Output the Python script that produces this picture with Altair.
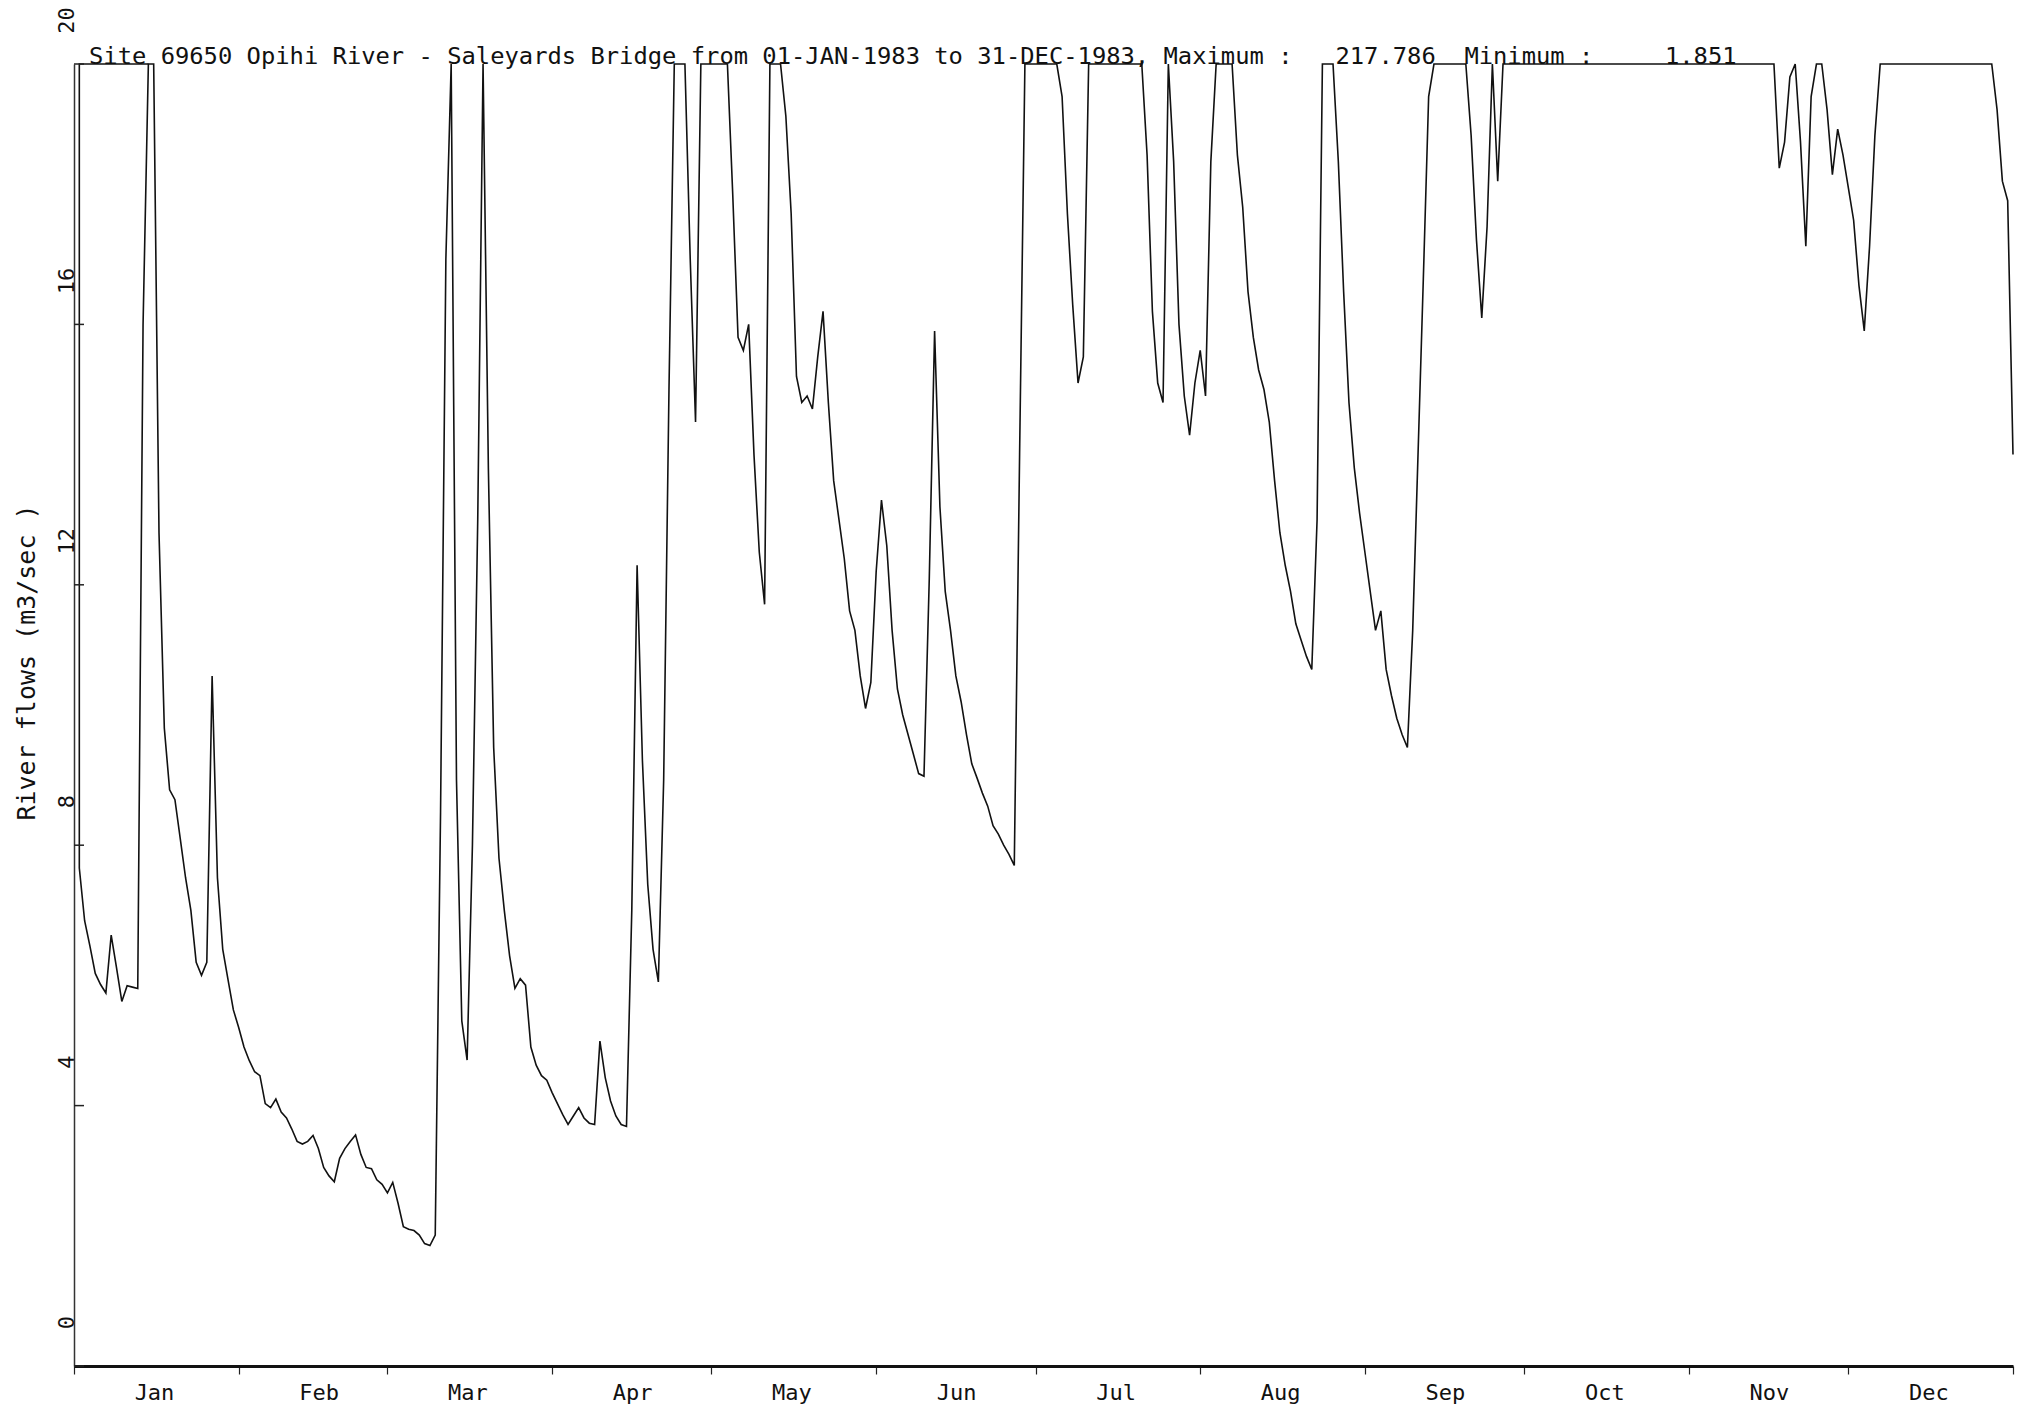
import altair as alt
import pandas as pd

# ---- text ----
TITLE = ("Site 69650 Opihi River - Saleyards Bridge from 01-JAN-1983 to 31-DEC-1983, "
         "Maximum :   217.786  Minimum :     1.851")
Y_TITLE = "River flows (m3/sec )"
MONTHS = ["Jan", "Feb", "Mar", "Apr", "May", "Jun",
          "Jul", "Aug", "Sep", "Oct", "Nov", "Dec"]
MONTH_STARTS = [0, 31, 59, 90, 120, 151, 181, 212, 243, 273, 304, 334, 365]
Y_TICKS = [0, 4, 8, 12, 16, 20]

# ---- daily flows (m3/sec); the plot is clipped at 20 ----
jan = [7.65, 6.84, 6.45, 6.03, 5.86, 5.73, 6.62, 6.12, 5.60, 5.84, 5.82, 5.80, 16.0, 20, 20,
       12.8, 9.8, 8.85, 8.7, 8.1, 7.5, 7.0, 6.2, 6.0, 6.2, 10.6, 7.5, 6.4, 5.93, 5.47, 5.2]
feb = [4.9, 4.69, 4.52, 4.46, 4.03, 3.97, 4.1, 3.9, 3.81, 3.64, 3.45, 3.41, 3.45, 3.54,
       3.34, 3.05, 2.92, 2.83, 3.19, 3.34, 3.45, 3.55, 3.25, 3.05, 3.03, 2.86, 2.79, 2.66]
mar = [2.82, 2.5, 2.14, 2.1, 2.08, 2.01, 1.88, 1.851, 2.01, 8.5, 17.0, 20, 9.0, 5.3, 4.7,
       8.0, 13.0, 20, 13.8, 9.5, 7.8, 7.0, 6.3, 5.8, 5.95, 5.85, 4.9, 4.62, 4.46, 4.39, 4.2]
apr = [4.03, 3.86, 3.71, 3.84, 3.97, 3.81, 3.73, 3.71, 4.99, 4.43, 4.07, 3.84, 3.71, 3.68,
       7.0, 12.3, 9.3, 7.4, 6.4, 5.9, 9.0, 15.0, 20, 20, 20, 17.0, 14.5, 20, 20, 20]
may = [20, 20, 20, 18.0, 15.8, 15.6, 16.0, 14.0, 12.5, 11.7, 20, 20, 20, 19.2, 17.7, 15.2,
       14.8, 14.9, 14.7, 15.5, 16.2, 14.8, 13.6, 13.0, 12.4, 11.6, 11.3, 10.6, 10.1, 10.5, 12.2]
jun = [13.3, 12.6, 11.3, 10.4, 10.0, 9.7, 9.4, 9.1, 9.06, 12.1, 15.9, 13.2, 11.9, 11.3, 10.6,
       10.2, 9.7, 9.25, 9.03, 8.8, 8.6, 8.3, 8.17, 8.0, 7.86, 7.69, 14.0, 20, 20, 20]
jul = [20, 20, 20, 20, 19.5, 17.7, 16.3, 15.1, 15.5, 20, 20, 20, 20, 20, 20, 20, 20, 20, 20,
       20, 18.6, 16.2, 15.1, 14.8, 20, 18.5, 16.0, 14.9, 14.3, 15.1, 15.6]
aug = [14.9, 18.5, 20, 20, 20, 20, 18.6, 17.8, 16.5, 15.8, 15.3, 15.0, 14.5, 13.6, 12.8, 12.3,
       11.9, 11.4, 11.15, 10.9, 10.7, 13.0, 20, 20, 20, 18.5, 16.5, 14.8, 13.8, 13.1, 12.5]
sep = [11.9, 11.3, 11.6, 10.7, 10.3, 9.95, 9.7, 9.5, 11.3, 14.0, 16.7, 19.5, 20, 20, 20, 20,
       20, 20, 20, 18.9, 17.3, 16.1, 17.5, 20, 18.2, 20, 20, 20, 20, 20]
oct_ = [20, 20, 20, 20, 20, 20, 20, 20, 20, 20, 20, 20, 20, 20, 20, 20, 20, 20, 20, 20, 20,
        20, 20, 20, 20, 20, 20, 20, 20, 20, 20]
nov = [20, 20, 20, 20, 20, 20, 20, 20, 20, 20, 20, 20, 20, 20, 20, 20, 18.4, 18.8, 19.8, 20,
       18.8, 17.2, 19.5, 20, 20, 19.3, 18.3, 19.0, 18.6, 18.1]
dec = [17.6, 16.6, 15.9, 17.2, 18.9, 20, 20, 20, 20, 20, 20, 20, 20, 20, 20, 20, 20, 20, 20,
       20, 20, 20, 20, 20, 20, 20, 20, 19.3, 18.2, 17.9, 14.0]

flows = jan + feb + mar + apr + may + jun + jul + aug + sep + oct_ + nov + dec
days = list(range(1, len(flows) + 1))

# pen lead-in drawn by the plotter before the first day (top edge, then down to day 1)
lead_days = [14, 1, 1]
lead_flows = [20, 20, 7.65]
lead_step = [0, 1, 2]

df = pd.DataFrame({"day": days, "flow": flows})
lead = pd.DataFrame({"day": lead_days, "flow": lead_flows, "step": lead_step})
yt = pd.DataFrame({"v": Y_TICKS})

FONT = "DejaVu Sans Mono"
INK = "#111111"
NBSP = "\u00a0"

label_expr = ("[" + ",".join("'%s'" % m for m in MONTHS + [""]) + "][indexof(["
              + ",".join(str(v) for v in MONTH_STARTS) + "], datum.value)]")

x_scale = alt.Scale(domain=[0, 365], nice=False, zero=False)
y_scale = alt.Scale(domain=[0, 20], nice=False, clamp=True)

x_axis = alt.Axis(values=MONTH_STARTS, labelExpr=label_expr, labelOffset=80,
                  labelFlush=False, labelOverlap=False, labelFont=FONT, labelFontSize=22,
                  labelColor=INK, labelPadding=8, labelBaseline="top", labelAlign="center",
                  tickSize=8, tickWidth=1.2, tickColor="#222222",
                  domainWidth=3, domainColor=INK, grid=False, title="")

y_axis = alt.Axis(values=Y_TICKS, ticks=False, tickSize=0, labelAngle=270,
                  labelAlign="center", labelBaseline="alphabetic", labelOffset=-44,
                  labelPadding=1, labelFont=FONT, labelFontSize=22, labelColor=INK,
                  labelFlush=False, labelOverlap=False, format="d",
                  domainWidth=1.5, domainColor="#333333", grid=False,
                  title=Y_TITLE.replace(" ", NBSP), titleFont=FONT, titleFontSize=25,
                  titleFontWeight="normal", titleColor=INK, titleAngle=270,
                  titleX=-48, titleY=598, titleAlign="center", titleBaseline="middle")

line = alt.Chart(df).mark_line(color=INK, strokeWidth=1.6).encode(
    x=alt.X("day:Q", scale=x_scale, axis=x_axis),
    y=alt.Y("flow:Q", scale=y_scale, axis=y_axis),
)

lead_line = alt.Chart(lead).mark_line(color=INK, strokeWidth=1.6).encode(
    x=alt.X("day:Q", scale=x_scale),
    y=alt.Y("flow:Q", scale=y_scale),
    order=alt.Order("step:Q"),
)

yticks = alt.Chart(yt).mark_rule(color="#222222", strokeWidth=1.5).encode(
    y=alt.Y("v:Q", scale=y_scale),
    x=alt.value(0),
    x2=alt.value(10),
)

chart = alt.layer(line, lead_line, yticks).properties(
    width=1939,
    height=1302,
    title=alt.TitleParams(TITLE.replace(" ", NBSP), anchor="start", frame="group", dx=15,
                          offset=-81, baseline="alphabetic", font=FONT, fontSize=23.8,
                          fontWeight="normal", color=INK),
    autosize=alt.AutoSizeParams(type="none"),
    padding={"left": 66, "top": 56, "right": 10, "bottom": 50},
).configure_view(strokeWidth=0)

chart.save("out.html", embed_options={"renderer": "svg", "actions": False})
